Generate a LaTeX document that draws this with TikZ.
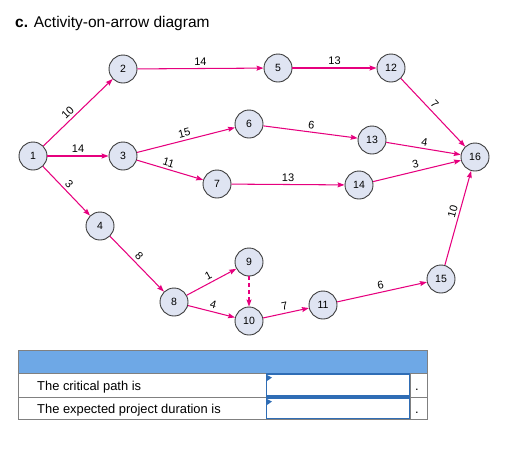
\documentclass[tikz,border=0pt]{standalone}
\usepackage{fontspec}
\setmainfont{Liberation Sans}
\usetikzlibrary{arrows.meta}
\definecolor{nodefill}{RGB}{223,228,242}
\definecolor{nodeline}{RGB}{60,60,60}
\definecolor{arr}{RGB}{230,0,126}
\definecolor{hdr}{RGB}{110,168,230}
\definecolor{tblline}{RGB}{128,128,128}
\definecolor{inbox}{RGB}{47,109,181}
\tikzset{
  ev/.style={circle,draw=nodeline,fill=nodefill,line width=0.9pt,minimum size=28pt,inner sep=0pt,font=\fontsize{10.5}{12}\selectfont},
  act/.style={draw=arr,line width=1.05pt,-{Stealth[length=7pt,width=5pt,inset=1pt]}},
  dum/.style={act,dashed,dash pattern=on 4pt off 3pt},
  lbl/.style={sloped,above,font=\fontsize{11}{12}\selectfont,inner sep=2.5pt},
  rowtxt/.style={anchor=base west,inner sep=0pt,font=\fontsize{12.9}{15}\selectfont},
  inputbox/.style={draw=inbox,line width=1.3pt},
  flag/.style={fill=inbox,draw=none}
}
\begin{document}
\begin{tikzpicture}[x=1pt,y=-1pt]
\useasboundingbox (0,0) rectangle (510,459);
% title
\node[anchor=base west,inner sep=0pt,font=\fontsize{15.5}{18}\selectfont] (title) at (15,27) {\textbf{c.} Activity-on-arrow diagram};
% events
\node[ev] (n1) at (33,156) {1};
\node[ev] (n2) at (123,69) {2};
\node[ev] (n3) at (123,156) {3};
\node[ev] (n4) at (100,226) {4};
\node[ev] (n5) at (278,68) {5};
\node[ev] (n6) at (249,124) {6};
\node[ev] (n7) at (217,184) {7};
\node[ev] (n8) at (174,302) {8};
\node[ev] (n9) at (249,262) {9};
\node[ev] (n10) at (249,321) {10};
\node[ev] (n11) at (323,305) {11};
\node[ev] (n12) at (391,68) {12};
\node[ev] (n13) at (372,140) {13};
\node[ev] (n14) at (359,185) {14};
\node[ev] (n15) at (441,279) {15};
\node[ev] (n16) at (475,157) {16};
% activities
\draw[act] (n1) -- node[lbl,pos=0.42] {10} (n2);
\draw[act] (n1) -- node[lbl] {14} (n3);
\draw[act] (n1) -- node[lbl,pos=0.45] {3} (n4);
\draw[act] (n2) -- node[lbl] {14} (n5);
\draw[act] (n5) -- node[lbl] {13} (n12);
\draw[act] (n12) -- node[lbl,pos=0.45] {7} (n16);
\draw[act] (n3) -- node[lbl] {15} (n6);
\draw[act] (n3) -- node[lbl,pos=0.45] {11} (n7);
\draw[act] (n6) -- node[lbl] {6} (n13);
\draw[act] (n13) -- node[lbl] {4} (n16);
\draw[act] (n7) -- node[lbl] {13} (n14);
\draw[act] (n14) -- node[lbl] {3} (n16);
\draw[act] (n4) -- node[lbl,pos=0.45] {8} (n8);
\draw[act] (n8) -- node[lbl] {1} (n9);
\draw[act] (n8) -- node[lbl] {4} (n10);
\draw[dum] (n9) -- (n10);
\draw[act] (n10) -- node[lbl] {7} (n11);
\draw[act] (n11) -- node[lbl] {6} (n15);
\draw[act] (n15) -- node[lbl,pos=0.55] {10} (n16);
% table
\fill[hdr] (18,350) rectangle (427,373);
\draw[tblline,line width=0.8pt] (18,350) rectangle (427,419);
\draw[tblline,line width=0.8pt] (18,373) -- (427,373);
\draw[tblline,line width=0.8pt] (18,397) -- (427,397);
\draw[tblline,line width=0.8pt] (266,373) -- (266,419);
\draw[tblline,line width=0.8pt] (410,373) -- (410,419);
\draw[inputbox] (266.5,374) rectangle (409.5,396);
\draw[inputbox] (266.5,398) rectangle (409.5,418.5);
\fill[flag] (267,375) -- (272,377.5) -- (267,381) -- cycle;
\fill[flag] (267,399) -- (272,401.5) -- (267,405) -- cycle;
\node[rowtxt] (r1) at (37,390) {The critical path is};
\node[rowtxt] (r2) at (37,413.3) {The expected project duration is};
\node[rowtxt] (d1) at (415,390) {.};
\node[rowtxt] (d2) at (415,413.3) {.};
\end{tikzpicture}
\end{document}
